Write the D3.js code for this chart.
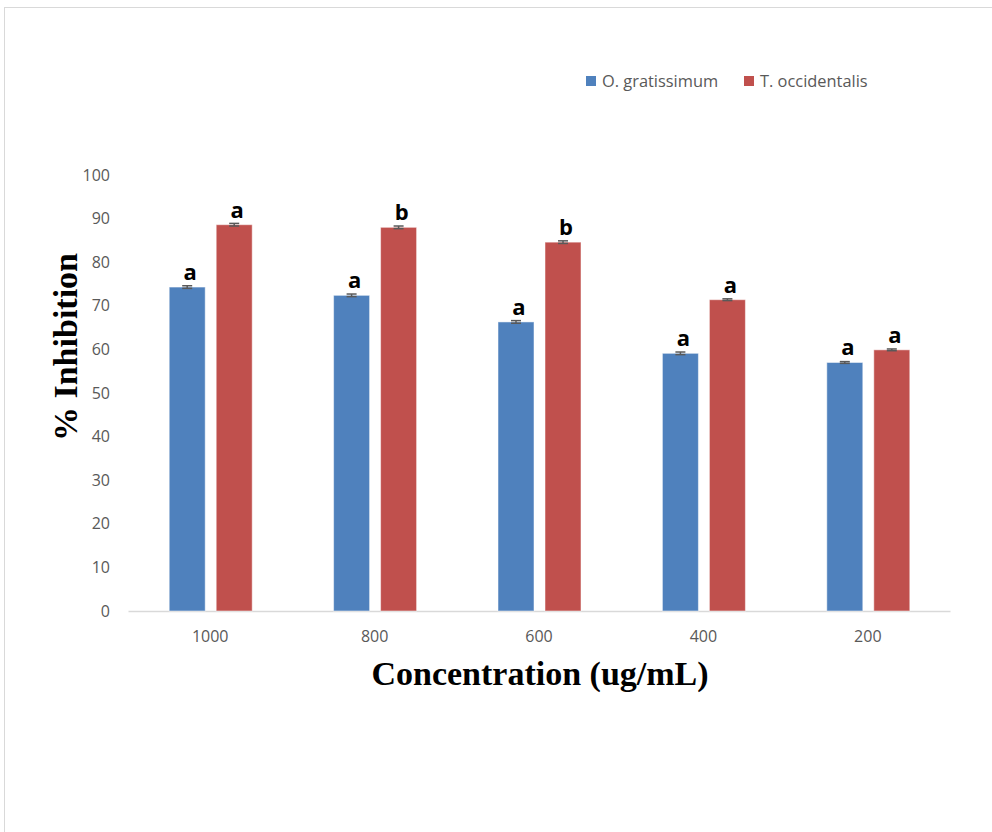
<!DOCTYPE html>
<html>
<head>
<meta charset="utf-8">
<script src="https://cdn.jsdelivr.net/npm/d3@7"></script>
<style>
html,body{margin:0;padding:0;background:#fff;}
svg{display:block;}
</style>
</head>
<body>
<svg id="chart" width="992" height="832"></svg>
<script>
const categories = ["1000", "800", "600", "400", "200"];
const seriesNames = ["O. gratissimum", "T. occidentalis"];
const gratissimum = [74.3, 72.4, 66.3, 59.1, 57.0];
const occidentalis = [88.6, 88.0, 84.6, 71.4, 59.9];
const gratissimumErr = [0.3, 0.3, 0.3, 0.3, 0.2];
const occidentalisErr = [0.3, 0.3, 0.3, 0.2, 0.2];
const gratissimumLetters = ["a", "a", "a", "a", "a"];
const occidentalisLetters = ["a", "b", "b", "a", "a"];
const yTicks = [0, 10, 20, 30, 40, 50, 60, 70, 80, 90, 100];
const colors = ["#4F81BD", "#C0504D"];

(function () {
const svg = d3.select("#chart");

// outer frame
svg.append("rect").attr("x", 4.5).attr("y", 7.5).attr("width", 1000).attr("height", 900)
  .attr("fill", "none").attr("stroke", "#D9D9D9").attr("stroke-width", 1);

const pLeft = 128, pRight = 950, pTop = 175, pBottom = 611;
const x = d3.scaleBand().domain(categories).range([pLeft, pRight]).paddingInner(0).paddingOuter(0);
const y = d3.scaleLinear().domain([0, 100]).range([pBottom, pTop]);
const bw0 = x.bandwidth();
const inner = d3.scaleBand().domain(seriesNames).range([bw0 / 2 - 41, bw0 / 2 + 42]).paddingInner(0.234).paddingOuter(0);

const series = [
  {name: seriesNames[0], values: gratissimum, err: gratissimumErr, letters: gratissimumLetters, color: colors[0]},
  {name: seriesNames[1], values: occidentalis, err: occidentalisErr, letters: occidentalisLetters, color: colors[1]}
];

// y axis tick labels
const yAxis = d3.axisLeft(y).tickValues(yTicks).tickSize(0).tickPadding(0);
const gy = svg.append("g").attr("transform", `translate(${pLeft - 18},0)`).call(yAxis);
gy.select(".domain").remove();
gy.selectAll("text").attr("font-family", "'Open Sans', sans-serif").attr("font-size", 16).attr("fill", "#595959");

// x axis
const xAxis = d3.axisBottom(x).tickSize(0).tickPadding(20);
const gx = svg.append("g").attr("transform", `translate(0,${pBottom})`).call(xAxis);
gx.select(".domain").attr("stroke", "#D9D9D9").attr("stroke-width", 1.5);
gx.selectAll("text").attr("font-family", "'Open Sans', sans-serif").attr("font-size", 16).attr("fill", "#595959");

// bars
series.forEach(s => {
  const g = svg.append("g");
  categories.forEach((c, i) => {
    const bx = x(c) + inner(s.name);
    const bw = inner.bandwidth();
    const v = s.values[i];
    g.append("rect").attr("x", bx).attr("y", y(v)).attr("width", bw).attr("height", y(0) - y(v))
      .attr("fill", s.color).attr("stroke", "#ffffff").attr("stroke-opacity", 0.5).attr("stroke-width", 1);
    const cx = bx + bw / 2;
    const e = s.err[i];
    g.append("line").attr("x1", cx).attr("x2", cx).attr("y1", y(v + e)).attr("y2", y(v - e))
      .attr("stroke", "#595959").attr("stroke-width", 1.5);
    [v + e, v - e].forEach(t => {
      g.append("line").attr("x1", cx - 5).attr("x2", cx + 5).attr("y1", y(t)).attr("y2", y(t))
        .attr("stroke", "#595959").attr("stroke-width", 1.5);
    });
    g.append("text").attr("x", cx + 3).attr("y", y(v) - 7).attr("text-anchor", "middle")
      .attr("font-family", "'Open Sans', sans-serif").attr("font-weight", "bold").attr("font-size", 22)
      .attr("fill", "#000").text(s.letters[i]);
  });
});

// axis titles
svg.append("text").attr("transform", `translate(77,347) rotate(-90)`)
  .attr("text-anchor", "middle").attr("font-family", "'Liberation Serif', 'Times New Roman', serif")
  .attr("font-weight", "bold").attr("font-size", 34).attr("fill", "#000").text("% Inhibition");
svg.append("text").attr("x", 540).attr("y", 685)
  .attr("text-anchor", "middle").attr("font-family", "'Liberation Serif', 'Times New Roman', serif")
  .attr("font-weight", "bold").attr("font-size", 34).attr("fill", "#000").text("Concentration (ug/mL)");

// legend
const legendX = [586, 744];
series.forEach((s, i) => {
  const lg = svg.append("g").attr("transform", `translate(${legendX[i]},76)`);
  lg.append("rect").attr("width", 10).attr("height", 10).attr("fill", s.color);
  lg.append("text").attr("x", 16).attr("y", 11).attr("font-family", "'Open Sans', sans-serif")
    .attr("font-size", 16.4).attr("fill", "#595959").text(s.name);
});
})();
</script>
</body>
</html>
